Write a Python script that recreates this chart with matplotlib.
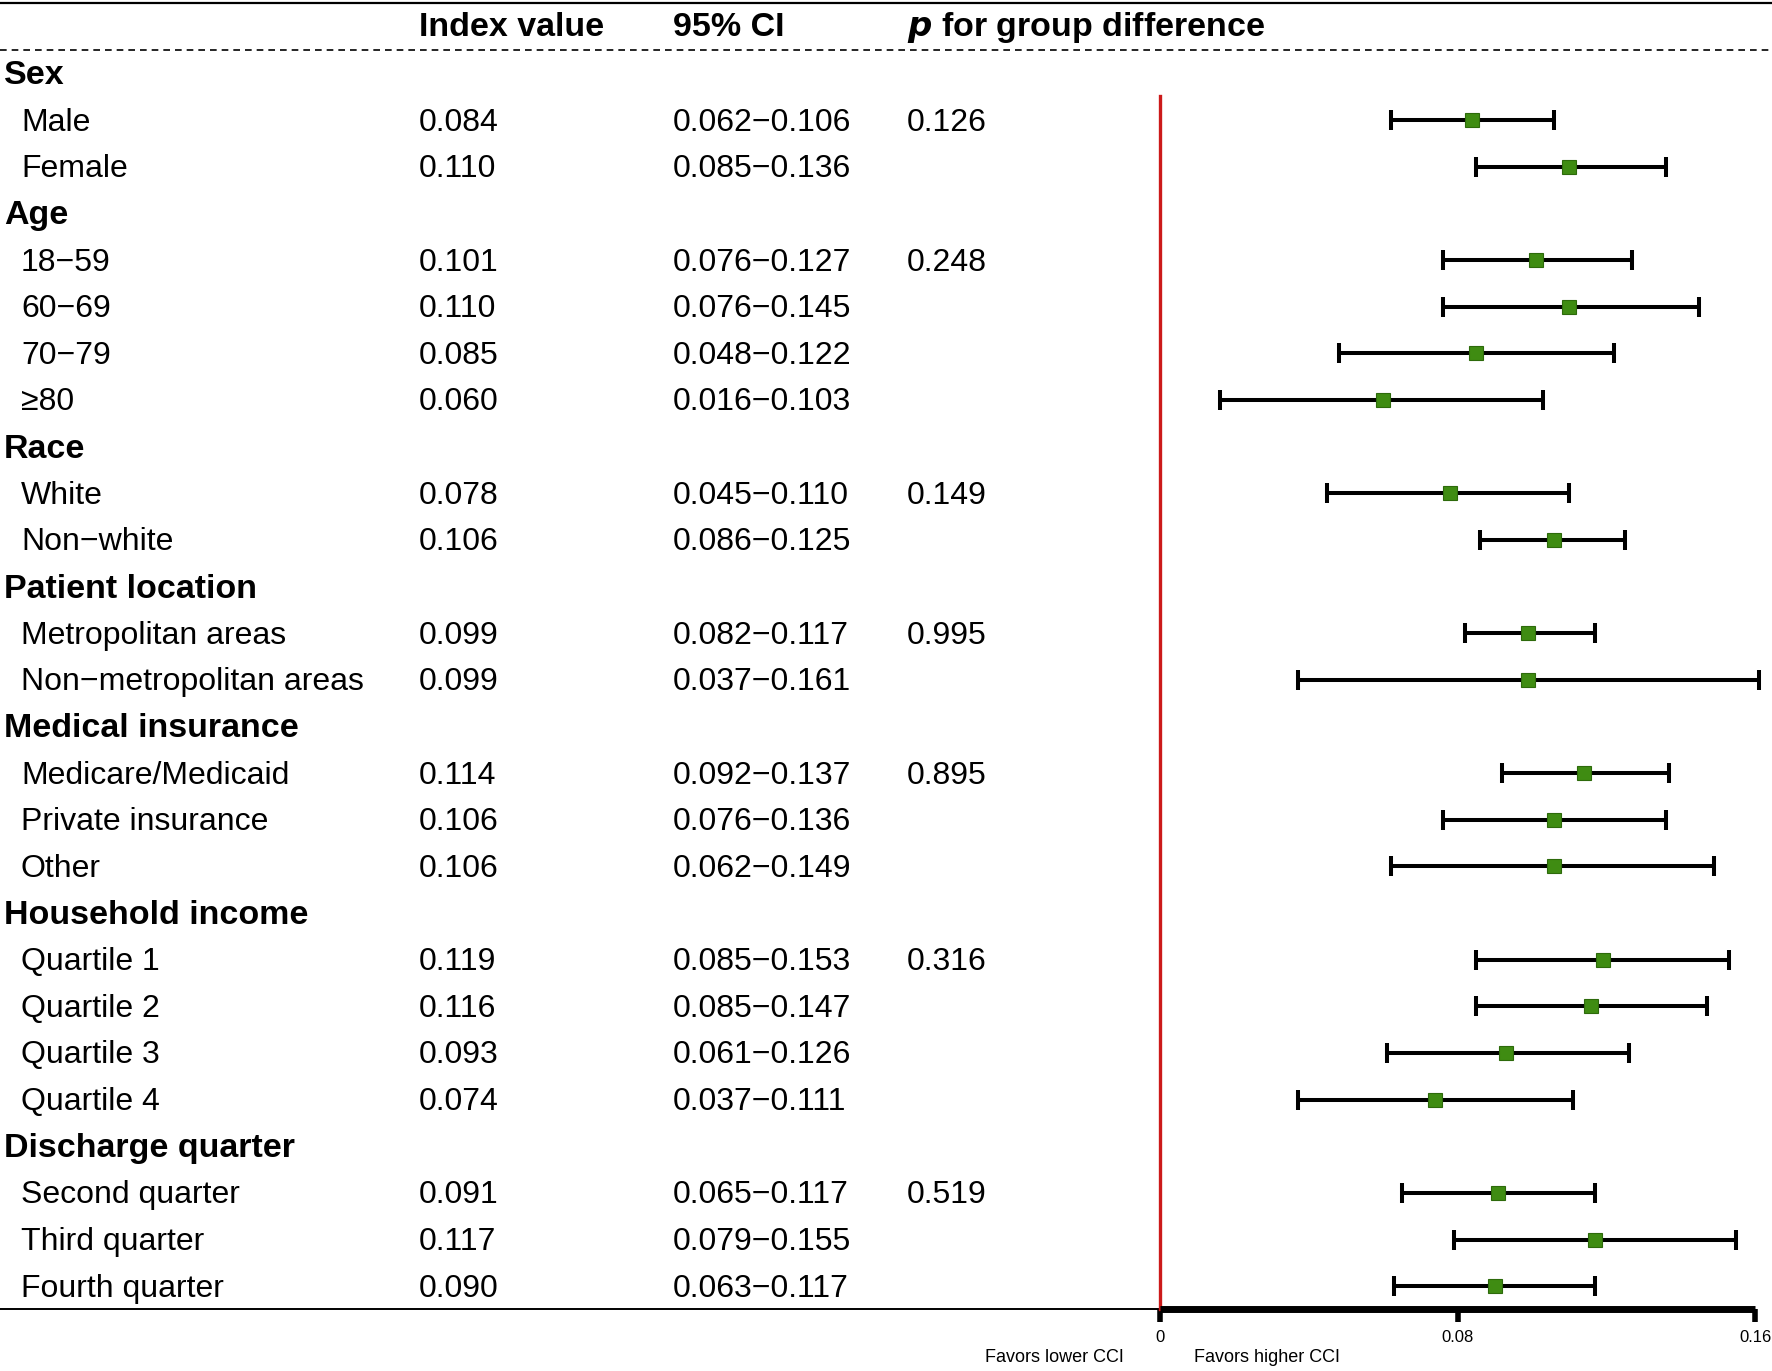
import matplotlib.pyplot as plt

plt.rcParams['font.family'] = ['Liberation Sans', 'DejaVu Sans']

groups = ["Sex", "Age", "Race", "Patient location", "Medical insurance",
          "Household income", "Discharge quarter"]
group_sizes = [2, 4, 2, 2, 3, 4, 3]
p_group = ["0.126", "0.248", "0.149", "0.995", "0.895", "0.316", "0.519"]

subgroups = ["Male", "Female",
             "18\u221259", "60\u221269", "70\u221279", "\u226580",
             "White", "Non\u2212white",
             "Metropolitan areas", "Non\u2212metropolitan areas",
             "Medicare/Medicaid", "Private insurance", "Other",
             "Quartile 1", "Quartile 2", "Quartile 3", "Quartile 4",
             "Second quarter", "Third quarter", "Fourth quarter"]
index_val = [0.084, 0.110, 0.101, 0.110, 0.085, 0.060, 0.078, 0.106, 0.099, 0.099,
             0.114, 0.106, 0.106, 0.119, 0.116, 0.093, 0.074, 0.091, 0.117, 0.090]
ci_lo = [0.062, 0.085, 0.076, 0.076, 0.048, 0.016, 0.045, 0.086, 0.082, 0.037,
         0.092, 0.076, 0.062, 0.085, 0.085, 0.061, 0.037, 0.065, 0.079, 0.063]
ci_hi = [0.106, 0.136, 0.127, 0.145, 0.122, 0.103, 0.110, 0.125, 0.117, 0.161,
         0.137, 0.136, 0.149, 0.153, 0.147, 0.126, 0.111, 0.117, 0.155, 0.117]
x_ticks = [0, 0.08, 0.16]

W, H = 1772, 1371
row0, step = 73.5, 46.64   # pixel y of first row and row spacing
txt_dy = 2.5               # small downward nudge for text

fig = plt.figure(figsize=(W / 100, H / 100), dpi=100)

# layout axes in pixel units for the table part
lay = fig.add_axes([0, 0, 1, 1])
lay.set_xlim(0, W)
lay.set_ylim(H, 0)
lay.axis('off')

def row_y(i):
    return row0 + step * i

# header
lay.plot([0, W], [2.5, 2.5], color='black', lw=1.6)
lay.plot([0, W], [50, 50], color='black', lw=1.2, ls=(0, (4, 3)))
hfs = 24.5
lay.text(419, 27.5, "Index value", fontsize=hfs, fontweight='bold', va='center')
lay.text(673, 27.5, "95% CI", fontsize=hfs, fontweight='bold', va='center')
lay.text(907, 27.5, r"$\bfit{p}$" + " for group difference", fontsize=hfs,
         fontweight='bold', va='center')

fs = 23
row = 0
k = 0
point_rows = []
for g, n, p in zip(groups, group_sizes, p_group):
    lay.text(4, row_y(row) + txt_dy, g, fontsize=hfs, fontweight='bold', va='center')
    row += 1
    for j in range(n):
        y = row_y(row) + txt_dy
        lay.text(21, y, subgroups[k], fontsize=fs, va='center')
        lay.text(419, y, f"{index_val[k]:.3f}", fontsize=fs, va='center')
        lay.text(673, y, f"{ci_lo[k]:.3f}\u2212{ci_hi[k]:.3f}", fontsize=fs, va='center')
        if j == 0:
            lay.text(907, y, p, fontsize=fs, va='center')
        point_rows.append(row)
        row += 1
        k += 1

# bottom line of the table
lay.plot([0, 1160], [1309, 1309], color='black', lw=1.4)
lay.text(1124, 1358, "Favors lower CCI", fontsize=13, ha='right', va='center')
lay.text(1194, 1358, "Favors higher CCI", fontsize=13, ha='left', va='center')

# forest plot axes
x0, x1 = 1160, 1755
ytop, ybot = 96, 1309
ax = fig.add_axes([x0 / W, 1 - ybot / H, (x1 - x0) / W, (ybot - ytop) / H])
ax.set_xlim(0, 0.16)
ax.set_ylim((ybot - row0) / step, (ytop - row0) / step)
ax.patch.set_alpha(0)

err = [[v - lo for v, lo in zip(index_val, ci_lo)],
       [hi - v for v, hi in zip(index_val, ci_hi)]]
ax.errorbar(index_val, point_rows, xerr=err, fmt='none', ecolor='black',
            elinewidth=2.9, capsize=7, capthick=2.9, clip_on=False, zorder=2)
ax.plot(index_val, point_rows, 's', ms=9.5, color='#3f8c12',
        mec='#2d6a0b', mew=0.8, clip_on=False, zorder=3)

for s in ['top', 'right']:
    ax.spines[s].set_visible(False)
ax.spines['left'].set_color('#cc1a1a')
ax.spines['left'].set_linewidth(2.4)
ax.spines['bottom'].set_linewidth(5)
ax.spines['bottom'].set_capstyle('butt')
ax.set_yticks([])
ax.set_xticks(x_ticks)
ax.set_xticklabels(["0", "0.08", "0.16"])
ax.tick_params(axis='x', length=9, width=4, labelsize=12, pad=6)

fig.savefig("out.png", dpi=100)
